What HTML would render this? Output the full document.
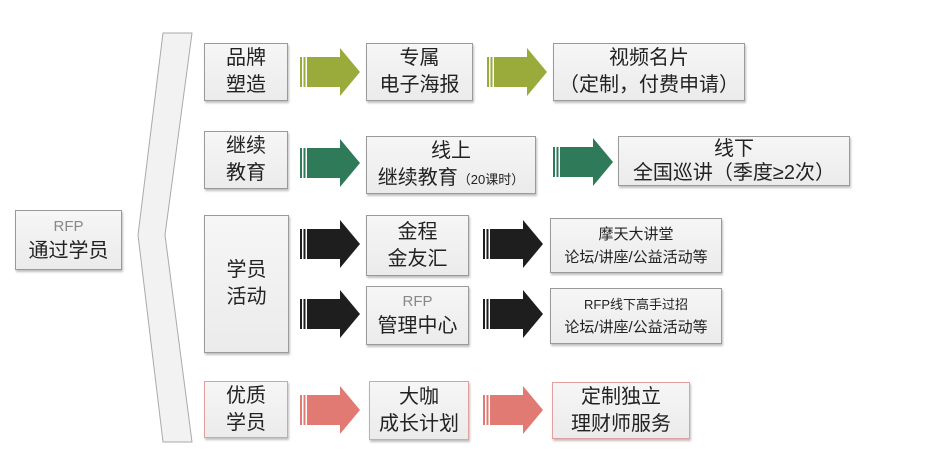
<!DOCTYPE html>
<html><head><meta charset="utf-8"><style>
body{margin:0;background:#fff;}
#c{position:relative;width:948px;height:475px;overflow:hidden;font-family:"Liberation Sans","Noto Sans CJK SC",sans-serif;color:#222;}
.b{position:absolute;box-sizing:border-box;background:linear-gradient(#f6f6f6,#ebebeb);border:1.5px solid #9a9a9a;box-shadow:1px 2px 2px rgba(0,0,0,0.25);display:flex;flex-direction:column;align-items:center;justify-content:center;text-align:center;font-size:20px;line-height:27px;}
.p{border-color:#e0a0a0;}
.s{font-size:15px;line-height:23px;}
.g{color:#888;}
svg{position:absolute;left:0;top:0;}
</style></head><body><div id="c">
<svg width="948" height="475">
<polygon points="163,33 192,33 165,235 192,442 163,442 138,235" fill="#f2f2f2" stroke="#aaa" stroke-width="1"/>
<g id="arrows"></g>
</svg>
<div class="b" style="left:15px;top:210px;width:107px;height:60px;"><span class="g" style="font-size:15px;line-height:22px">RFP</span>通过学员</div>
<div class="b" style="left:204px;top:43px;width:84px;height:58px;">品牌<br>塑造</div>
<div class="b" style="left:366px;top:43px;width:107px;height:58px;">专属<br>电子海报</div>
<div class="b" style="left:553px;top:43px;width:192px;height:58px;">视频名片<br>（定制，付费申请）</div>
<div class="b" style="left:204px;top:131px;width:84px;height:58px;">继续<br>教育</div>
<div class="b" style="left:366px;top:136px;width:170px;height:58px;"><span>线上</span><span>继续教育<span style="font-size:13px">（20课时）</span></span></div>
<div class="b" style="left:618px;top:136px;width:232px;height:50px;line-height:24px">线下<br>全国巡讲（季度≥2次）</div>
<div class="b" style="left:204px;top:215px;width:85px;height:138px;">学员<br>活动</div>
<div class="b" style="left:366px;top:215px;width:103px;height:61px;">金程<br>金友汇</div>
<div class="b s" style="left:550px;top:218px;width:172px;height:55px;">摩天大讲堂<br>论坛/讲座/公益活动等</div>
<div class="b" style="left:366px;top:286px;width:103px;height:59px;"><span class="g" style="font-size:15px;line-height:22px">RFP</span>管理中心</div>
<div class="b s" style="left:550px;top:288px;width:172px;height:56px;"><span style="font-size:13px">RFP线下高手过招</span>论坛/讲座/公益活动等</div>
<div class="b p" style="left:204px;top:381px;width:84px;height:57px;">优质<br>学员</div>
<div class="b p" style="left:369px;top:381px;width:100px;height:59px;">大咖<br>成长计划</div>
<div class="b p" style="left:552px;top:382px;width:138px;height:57px;">定制独立<br>理财师服务</div>
</div>
<script>
var A=[[300,72,'#9aab3c'],[487,72,'#9aab3c'],[300,163,'#2f7a58'],[553,162,'#2f7a58'],[300,244,'#1e1e1e'],[483,244,'#1e1e1e'],[300,314,'#1e1e1e'],[483,314,'#1e1e1e'],[300,410,'#e07a72'],[483,410,'#e07a72']];
var s='';A.forEach(function(a){var x=a[0],y=a[1],c=a[2];
s+='<rect x="'+x+'" y="'+(y-15)+'" width="2" height="30" fill="'+c+'"/>';
s+='<rect x="'+(x+3.5)+'" y="'+(y-15)+'" width="2" height="30" fill="'+c+'"/>';
s+='<polygon points="'+(x+7)+','+(y-15)+' '+(x+40)+','+(y-15)+' '+(x+40)+','+(y-24)+' '+(x+60)+','+y+' '+(x+40)+','+(y+24)+' '+(x+40)+','+(y+15)+' '+(x+7)+','+(y+15)+'" fill="'+c+'"/>';});
document.getElementById('arrows').innerHTML=s;
</script>
</body></html>
